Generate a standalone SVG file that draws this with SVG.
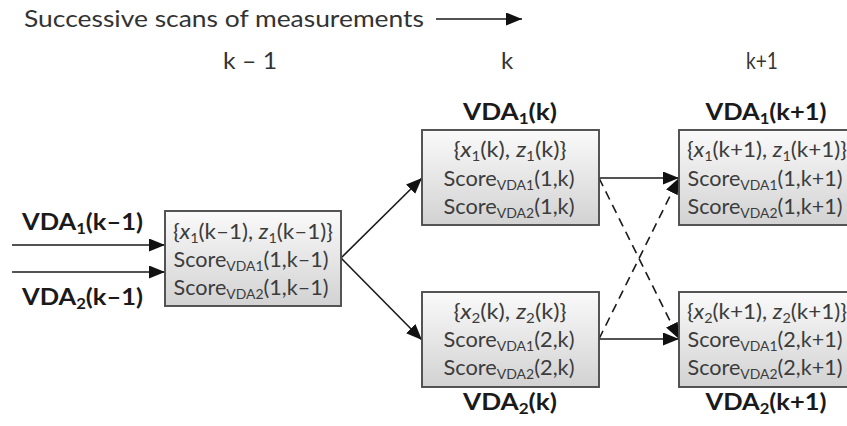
<svg xmlns="http://www.w3.org/2000/svg" width="847" height="426" viewBox="0 0 847 426">
<style>
  .t { font-family: Lato, "Liberation Sans", sans-serif; }
  .hdr { font-size: 24px; fill: #333; }
  .lab { font-size: 23px; font-weight: bold; fill: #1a1a1a; }
  .box { fill: url(#g); stroke: #4d4d4d; stroke-width: 1.9; }
  .bt { font-size: 21px; fill: #3c3c3c; text-anchor: middle; }
  .sub { font-size: 13.5px; }
  .lsub { font-size: 15px; }
  .c { stroke: #1a1a1a; stroke-width: 1.6; fill: none; marker-end: url(#ah); }
  .d { stroke-dasharray: 9 6; }
</style>
<defs>
  <linearGradient id="g" x1="0" y1="0" x2="0" y2="1">
    <stop offset="0" stop-color="#fafafa"/>
    <stop offset="1" stop-color="#d2d2d2"/>
  </linearGradient>
  <marker id="ah" markerUnits="userSpaceOnUse" markerWidth="18" markerHeight="14" refX="16" refY="6.5" orient="auto">
    <path d="M0,0 L16,6.5 L0,13 Z" fill="#111"/>
  </marker>
</defs>
<rect width="847" height="426" fill="#fff"/>

<g id="header">
  <text class="t hdr" x="24" y="27" textLength="400" lengthAdjust="spacingAndGlyphs">Successive scans of measurements</text>
  <text class="t hdr" x="250" y="69" text-anchor="middle" textLength="54" lengthAdjust="spacingAndGlyphs">k – 1</text>
  <text class="t hdr" x="507" y="69" text-anchor="middle">k</text>
  <text class="t hdr" x="762" y="69" text-anchor="middle" textLength="32" lengthAdjust="spacingAndGlyphs">k+1</text>
</g>

<g id="connectors">
  <line class="c" x1="436" y1="19" x2="522" y2="19"/>
  <line class="c" x1="12" y1="245" x2="165" y2="245"/>
  <line class="c" x1="12" y1="272" x2="165" y2="272"/>
  <line class="c" x1="341" y1="258" x2="422" y2="178"/>
  <line class="c" x1="341" y1="258" x2="422" y2="340"/>
  <line class="c" x1="599" y1="178" x2="679" y2="178"/>
  <line class="c" x1="599" y1="339" x2="679" y2="339"/>
  <line class="c d" x1="599" y1="178" x2="679" y2="339"/>
  <line class="c d" x1="599" y1="339" x2="679" y2="178"/>
</g>

<g id="inputs">
  <text class="t lab" x="22" y="230" textLength="121" lengthAdjust="spacingAndGlyphs">VDA<tspan class="lsub" dy="4">1</tspan><tspan dy="-4">(k–1)</tspan></text>
  <text class="t lab" x="22" y="305" textLength="121" lengthAdjust="spacingAndGlyphs">VDA<tspan class="lsub" dy="4">2</tspan><tspan dy="-4">(k–1)</tspan></text>
</g>

<g id="node-km1">
  <rect class="box" x="165" y="211" width="176" height="95"/>
  <text class="t bt" x="253" y="239" textLength="160" lengthAdjust="spacingAndGlyphs">{<tspan font-style="italic">x</tspan><tspan class="sub" dy="4">1</tspan><tspan dy="-4">(k–1), </tspan><tspan font-style="italic">z</tspan><tspan class="sub" dy="4">1</tspan><tspan dy="-4">(k–1)}</tspan></text>
  <text class="t bt" x="251" y="267" textLength="155" lengthAdjust="spacingAndGlyphs">Score<tspan class="sub" dy="4">VDA1</tspan><tspan dy="-4">(1,k–1)</tspan></text>
  <text class="t bt" x="251" y="295" textLength="155" lengthAdjust="spacingAndGlyphs">Score<tspan class="sub" dy="4">VDA2</tspan><tspan dy="-4">(1,k–1)</tspan></text>
</g>

<g id="node-vda1-k">
  <text class="t lab" x="510" y="120" text-anchor="middle" textLength="94" lengthAdjust="spacingAndGlyphs">VDA<tspan class="lsub" dy="4">1</tspan><tspan dy="-4">(k)</tspan></text>
  <rect class="box" x="422" y="130" width="177" height="95"/>
  <text class="t bt" x="510" y="157" textLength="113" lengthAdjust="spacingAndGlyphs">{<tspan font-style="italic">x</tspan><tspan class="sub" dy="4">1</tspan><tspan dy="-4">(k), </tspan><tspan font-style="italic">z</tspan><tspan class="sub" dy="4">1</tspan><tspan dy="-4">(k)}</tspan></text>
  <text class="t bt" x="509" y="186" textLength="131" lengthAdjust="spacingAndGlyphs">Score<tspan class="sub" dy="4">VDA1</tspan><tspan dy="-4">(1,k)</tspan></text>
  <text class="t bt" x="509" y="214" textLength="131" lengthAdjust="spacingAndGlyphs">Score<tspan class="sub" dy="4">VDA2</tspan><tspan dy="-4">(1,k)</tspan></text>
</g>

<g id="node-vda2-k">
  <rect class="box" x="422" y="292" width="177" height="95"/>
  <text class="t bt" x="510" y="319" textLength="113" lengthAdjust="spacingAndGlyphs">{<tspan font-style="italic">x</tspan><tspan class="sub" dy="4">2</tspan><tspan dy="-4">(k), </tspan><tspan font-style="italic">z</tspan><tspan class="sub" dy="4">2</tspan><tspan dy="-4">(k)}</tspan></text>
  <text class="t bt" x="509" y="347" textLength="131" lengthAdjust="spacingAndGlyphs">Score<tspan class="sub" dy="4">VDA1</tspan><tspan dy="-4">(2,k)</tspan></text>
  <text class="t bt" x="509" y="375" textLength="131" lengthAdjust="spacingAndGlyphs">Score<tspan class="sub" dy="4">VDA2</tspan><tspan dy="-4">(2,k)</tspan></text>
  <text class="t lab" x="510" y="410" text-anchor="middle" textLength="94" lengthAdjust="spacingAndGlyphs">VDA<tspan class="lsub" dy="4">2</tspan><tspan dy="-4">(k)</tspan></text>
</g>

<g id="node-vda1-k1">
  <text class="t lab" x="766" y="120" text-anchor="middle" textLength="121" lengthAdjust="spacingAndGlyphs">VDA<tspan class="lsub" dy="4">1</tspan><tspan dy="-4">(k+1)</tspan></text>
  <rect class="box" x="679" y="130" width="177" height="95"/>
  <text class="t bt" x="767" y="157" textLength="160" lengthAdjust="spacingAndGlyphs">{<tspan font-style="italic">x</tspan><tspan class="sub" dy="4">1</tspan><tspan dy="-4">(k+1), </tspan><tspan font-style="italic">z</tspan><tspan class="sub" dy="4">1</tspan><tspan dy="-4">(k+1)}</tspan></text>
  <text class="t bt" x="765" y="186" textLength="155" lengthAdjust="spacingAndGlyphs">Score<tspan class="sub" dy="4">VDA1</tspan><tspan dy="-4">(1,k+1)</tspan></text>
  <text class="t bt" x="765" y="214" textLength="155" lengthAdjust="spacingAndGlyphs">Score<tspan class="sub" dy="4">VDA2</tspan><tspan dy="-4">(1,k+1)</tspan></text>
</g>

<g id="node-vda2-k1">
  <rect class="box" x="679" y="292" width="177" height="95"/>
  <text class="t bt" x="767" y="319" textLength="160" lengthAdjust="spacingAndGlyphs">{<tspan font-style="italic">x</tspan><tspan class="sub" dy="4">2</tspan><tspan dy="-4">(k+1), </tspan><tspan font-style="italic">z</tspan><tspan class="sub" dy="4">2</tspan><tspan dy="-4">(k+1)}</tspan></text>
  <text class="t bt" x="765" y="347" textLength="155" lengthAdjust="spacingAndGlyphs">Score<tspan class="sub" dy="4">VDA1</tspan><tspan dy="-4">(2,k+1)</tspan></text>
  <text class="t bt" x="765" y="375" textLength="155" lengthAdjust="spacingAndGlyphs">Score<tspan class="sub" dy="4">VDA2</tspan><tspan dy="-4">(2,k+1)</tspan></text>
  <text class="t lab" x="766" y="410" text-anchor="middle" textLength="121" lengthAdjust="spacingAndGlyphs">VDA<tspan class="lsub" dy="4">2</tspan><tspan dy="-4">(k+1)</tspan></text>
</g>
</svg>
